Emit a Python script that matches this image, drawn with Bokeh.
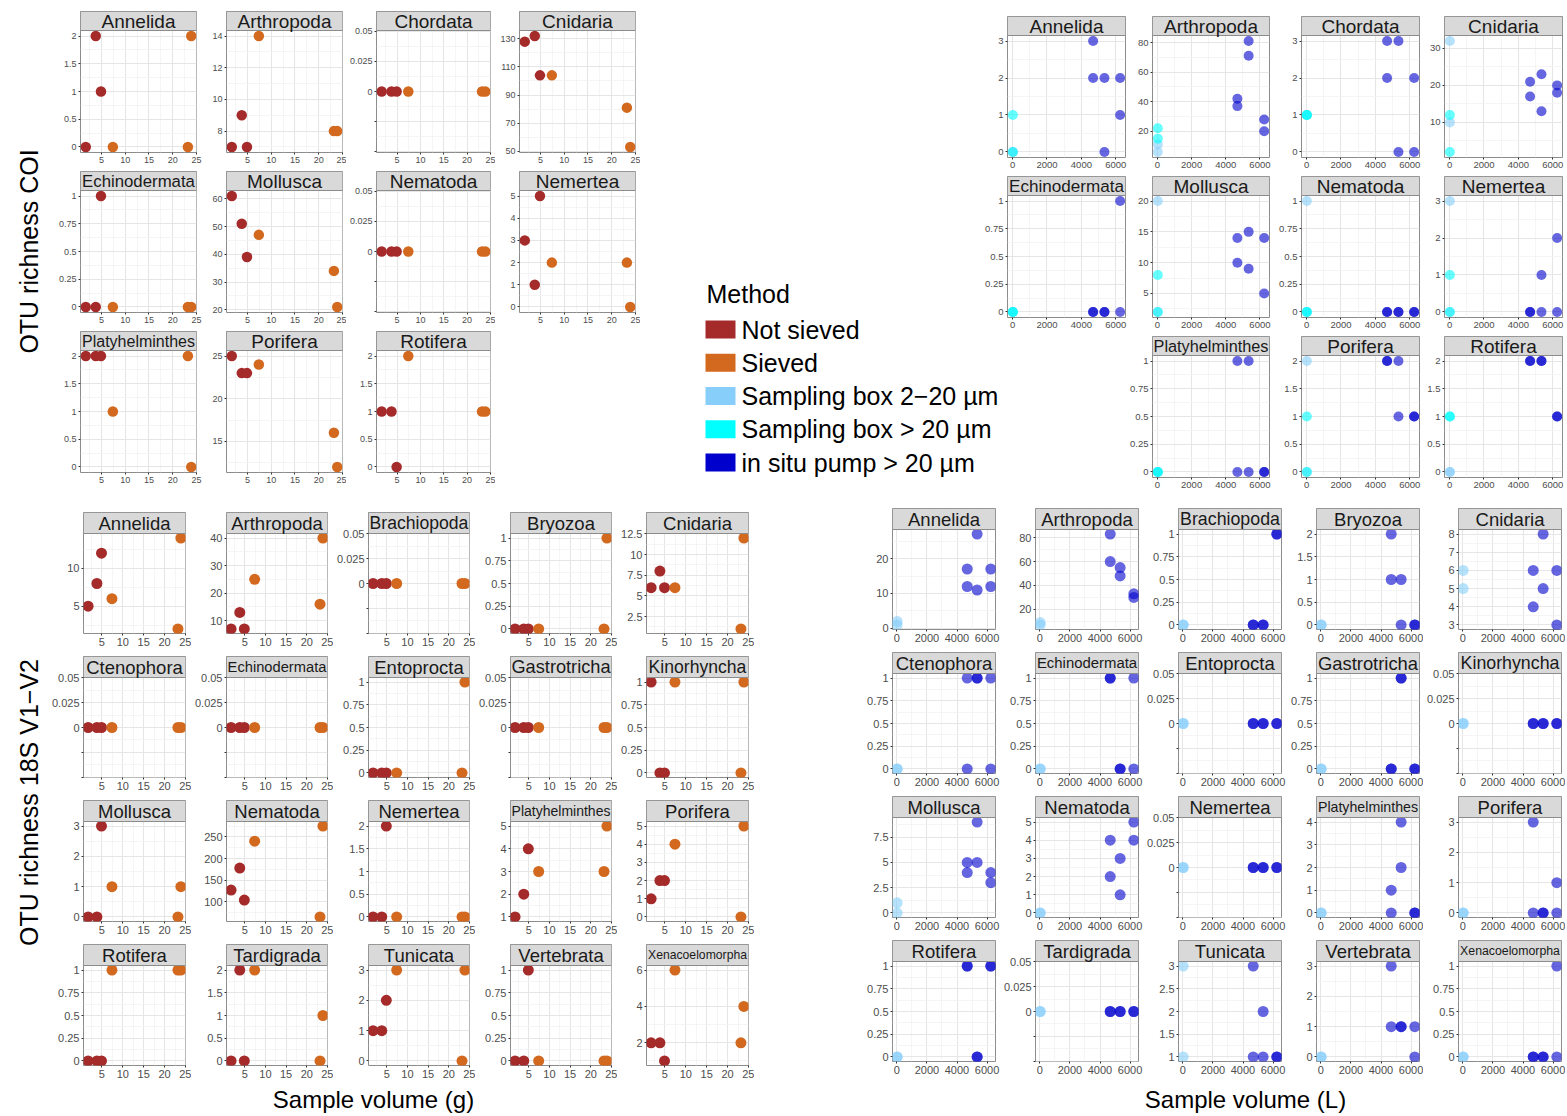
import math
from bokeh.plotting import figure
from bokeh.models import Range1d, FixedTicker, CustomJSTickFormatter, Spacer
from bokeh.layouts import row, column
from bokeh.core.properties import value
from bokeh.embed import file_html
from bokeh.resources import INLINE

FONT = "Liberation Sans"

# ------------------------------------------------------------------ data
METHODS = ["Not sieved", "Sieved", "Sampling box 2\u221220 \u00b5m",
           "Sampling box > 20 \u00b5m", "in situ pump > 20 \u00b5m"]
METHOD_COLORS = ["#A52A2A", "#D2691E", "#87CEFA", "#00FFFF", "#0000CD"]

SED_NOT_SIEVED_G = [1.7, 3.8, 4.9]
SED_SIEVED_G = [7.4, 23.2, 23.9]
WATER_BOX_L = [20, 20]
WATER_PUMP_L = [4680, 4680, 5340, 5340, 6250, 6250]

COI_TAXA = ["Annelida", "Arthropoda", "Chordata", "Cnidaria", "Echinodermata",
            "Mollusca", "Nematoda", "Nemertea", "Platyhelminthes", "Porifera", "Rotifera"]
COI_SED_NOT_SIEVED = [[0, 2, 1], [7, 9, 7], [0, 0, 0], [128, 132, 104], [0, 0, 1],
                      [61, 51, 39], [0, 0, 0], [3, 1, 5], [2, 2, 2], [25, 23, 23], [1, 1, 0]]
COI_SED_SIEVED = [[0, 0, 2], [14, 8, 8], [0, 0, 0], [104, 81, 53], [0, 0, 0],
                  [47, 34, 21], [0, 0, 0], [2, 2, 0], [1, 2, 0], [24, 16, 12], [2, 1, 1]]
COI_WAT_BOX_2_20 = [[0, 0], [11, 6], [1, 1], [32, 10], [0, 0], [20, 2], [1, 0], [3, 0],
                    [0, 0], [2, 0], [0, 0]]
COI_WAT_BOX_20 = [[1, 0], [22, 15], [1, 1], [12, 2], [0, 0], [8, 2], [0, 0], [1, 0],
                  [0, 0], [1, 0], [1, 1]]
COI_WAT_PUMP = [[3, 2, 2, 0, 2, 1], [42, 37, 81, 71, 28, 20], [3, 2, 3, 0, 2, 0],
                [21, 17, 23, 13, 20, 18], [0, 0, 0, 0, 1, 0], [14, 10, 15, 9, 14, 5],
                [0, 0, 0, 0, 0, 0], [0, 0, 1, 0, 2, 0], [1, 0, 1, 0, 0, 0],
                [2, 2, 2, 1, 1, 1], [2, 2, 2, 2, 1, 1]]

S18_TAXA = ["Annelida", "Arthropoda", "Brachiopoda", "Bryozoa", "Cnidaria",
            "Ctenophora", "Echinodermata", "Entoprocta", "Gastrotricha", "Kinorhyncha",
            "Mollusca", "Nematoda", "Nemertea", "Platyhelminthes", "Porifera",
            "Rotifera", "Tardigrada", "Tunicata", "Vertebrata", "Xenacoelomorpha"]
S18_SED_NOT_SIEVED = [[5, 8, 12], [7, 13, 7], [0, 0, 0], [0, 0, 0], [6, 8, 6],
                      [0, 0, 0], [0, 0, 0], [0, 0, 0], [0, 0, 0], [1, 0, 0],
                      [0, 0, 3], [127, 178, 104], [0, 0, 2], [1, 2, 4], [1, 2, 2],
                      [0, 0, 0], [0, 2, 0], [1, 1, 2], [0, 0, 1], [2, 2, 1]]
S18_SED_SIEVED = [[6, 2, 14], [25, 16, 40], [0, 0, 0], [0, 0, 1], [6, 1, 12],
                  [0, 0, 0], [0, 0, 0], [0, 0, 1], [0, 0, 0], [1, 0, 1],
                  [1, 0, 1], [240, 65, 275], [0, 0, 0], [3, 3, 5], [4, 0, 5],
                  [1, 1, 1], [2, 0, 1], [3, 0, 3], [0, 0, 0], [6, 2, 4]]
S18_WAT_BOX_2_20 = [[2, 1], [9, 7], [0, 0], [0, 0], [6, 5], [0, 0], [0, 0], [0, 0],
                    [0, 0], [0, 0], [1, 0], [0, 0], [0, 0], [0, 0], [0, 0], [0, 0],
                    [0, 0], [3, 1], [0, 0], [0, 0]]
S18_WAT_PUMP = [[17, 12, 27, 11, 17, 12], [83, 60, 55, 48, 33, 30], [0, 0, 0, 0, 1, 1],
                [2, 1, 1, 0, 0, 0], [6, 4, 8, 5, 6, 3], [1, 0, 1, 1, 1, 0],
                [1, 1, 0, 0, 1, 0], [0, 0, 0, 0, 0, 0], [0, 0, 1, 1, 0, 0],
                [0, 0, 0, 0, 0, 0], [5, 4, 9, 5, 4, 3], [4, 2, 3, 1, 5, 4],
                [0, 0, 0, 0, 0, 0], [1, 0, 4, 2, 0, 0], [3, 0, 0, 0, 1, 0],
                [1, 1, 0, 0, 1, 1], [0, 0, 0, 0, 0, 0], [3, 1, 2, 1, 1, 1],
                [3, 1, 1, 1, 1, 0], [0, 0, 0, 0, 1, 0]]

Y_TITLE_COI = "OTU richness COI"
Y_TITLE_18S = "OTU richness 18S V1\u2212V2"
X_TITLE_SED = "Sample volume (g)"
X_TITLE_WAT = "Sample volume (L)"
LEGEND_TITLE = "Method"


# ------------------------------------------------------------------ helpers
def extended(dmin, dmax, m=5):
    """Talbot et al. extended tick algorithm (as used by ggplot2)."""
    Q = [1, 5, 2, 2.5, 4, 3]
    w = [0.25, 0.2, 0.5, 0.05]
    eps = 2.220446e-14
    n = len(Q)
    best_score = -2.0
    best = None
    rng = dmax - dmin
    j = 1
    while j < 60:
        stop = False
        for qi, q in enumerate(Q, start=1):
            sm = 1 - (qi - 1) / (n - 1) - j + 1
            if w[0] * sm + w[1] + w[2] + w[3] < best_score:
                stop = True
                break
            k = 2
            while k < 60:
                dm = 2 - (k - 1) / (m - 1) if k >= m else 1
                if w[0] * sm + w[1] + w[2] * dm + w[3] < best_score:
                    break
                delta = rng / (k + 1) / j / q
                z = math.ceil(math.log10(delta))
                while z < 60:
                    step = j * q * 10.0 ** z
                    span = step * (k - 1)
                    if span > rng:
                        half = (span - rng) / 2
                        cm = 1 - 0.5 * (2 * half ** 2) / ((0.1 * rng) ** 2)
                    else:
                        cm = 1
                    if w[0] * sm + w[1] * cm + w[2] * dm + w[3] < best_score:
                        break
                    min_start = math.floor(dmax / step) * j - (k - 1) * j
                    max_start = math.ceil(dmin / step) * j
                    if min_start > max_start:
                        z += 1
                        continue
                    for start in range(min_start, max_start + 1):
                        lmin = start * (step / j)
                        lmax = lmin + step * (k - 1)
                        md = lmin % step
                        v = 1 if ((md < eps or step - md < eps) and lmin <= 0 <= lmax) else 0
                        s = 1 - (qi - 1) / (n - 1) - j + v
                        c = 1 - 0.5 * ((dmax - lmax) ** 2 + (dmin - lmin) ** 2) / ((0.1 * rng) ** 2)
                        r = (k - 1) / (lmax - lmin)
                        rt = (m - 1) / (max(lmax, dmax) - min(dmin, lmin))
                        g = 2 - max(r / rt, rt / r)
                        score = w[0] * s + w[1] * c + w[2] * g + w[3]
                        if score > best_score:
                            best_score = score
                            best = (lmin, step, k)
                    z += 1
                k += 1
        if stop:
            break
        j += 1
    lmin, step, k = best
    return [lmin + i * step for i in range(k)]


def expand(lo, hi):
    pad = 0.05 * (hi - lo)
    return lo - pad, hi + pad


def breaks_and_minors(r0, r1):
    # ggplot computes breaks on the expanded (continuous) range
    full = extended(r0, r1)
    tol = 1e-9 * (r1 - r0)
    majors = [round(b, 9) + 0.0 for b in full if r0 - tol <= b <= r1 + tol]
    minors = []
    if len(majors) >= 2:
        d = majors[1] - majors[0]
        ext = [majors[0] - d] + majors + [majors[-1] + d]
        minors = [round((a + b) / 2, 9) + 0.0 for a, b in zip(ext[:-1], ext[1:])]
        minors = [v for v in minors if r0 <= v <= r1]
    return majors, minors


CHAR_W = {"A": 667, "B": 667, "C": 722, "E": 667, "G": 778, "K": 722, "M": 833,
          "N": 722, "P": 667, "R": 722, "T": 611, "V": 667, "X": 667,
          "a": 556, "b": 556, "c": 500, "d": 556, "e": 556, "g": 556, "h": 556,
          "i": 222, "l": 222, "m": 833, "n": 556, "o": 556, "p": 556, "r": 333,
          "s": 500, "t": 278, "u": 556, "v": 500, "y": 500, "z": 500, "x": 500, " ": 278}


def em_width(s):
    return sum(CHAR_W.get(ch, 556) for ch in s) / 1000.0


TICK_FMT = CustomJSTickFormatter(code="""
if (tick < -1e-9) { return ""; }
return String(parseFloat(tick.toPrecision(10)));
""")


def make_facet(name, series, cfg, Lb, R, Bb):
    W, H, SH = cfg["W"], cfg["H"], cfg["SH"]
    xs_all = [x for s in series for x in s[0]]
    ys_all = [y for s in series for y in s[1]]
    x0, x1 = expand(min(xs_all), max(xs_all))
    xmaj, xmin = breaks_and_minors(x0, x1)
    ylo, yhi = min(ys_all), max(ys_all)
    if yhi - ylo < 1e-12:
        y0, y1 = ylo - 0.0505, yhi + 0.0505
        ymaj = [round(ylo + d, 6) + 0.0 for d in (-0.05, -0.025, 0.0, 0.025, 0.05)]
        ymin = [round(ylo + d, 6) + 0.0 for d in (-0.0375, -0.0125, 0.0125, 0.0375)]
    else:
        y0, y1 = expand(ylo, yhi)
        ymaj, ymin = breaks_and_minors(y0, y1)
    ytop = y1 + (y1 - y0) * SH / H

    p = figure(width=Lb + W + R, height=SH + H + Bb,
               x_range=Range1d(x0, x1), y_range=Range1d(y0, ytop),
               min_border_left=Lb, min_border_right=R, min_border_top=0,
               min_border_bottom=Bb, toolbar_location=None, output_backend="svg",
               background_fill_color="white", border_fill_color="white")
    p.outline_line_color = "#8C8C8C"
    p.outline_line_width = 1

    xt = FixedTicker(ticks=xmaj, minor_ticks=xmin)
    yt = FixedTicker(ticks=ymaj, minor_ticks=ymin)
    p.xaxis.ticker = xt
    p.yaxis.ticker = yt
    p.xgrid.ticker = xt
    p.ygrid.ticker = yt
    for ax in (p.xaxis[0], p.yaxis[0]):
        ax.formatter = TICK_FMT
        ax.axis_line_color = None
        ax.major_tick_line_color = "#333333"
        ax.major_tick_out = 2
        ax.major_tick_in = 0
        ax.minor_tick_line_color = None
        ax.major_label_standoff = 0
        ax.major_label_text_font = FONT
        ax.major_label_text_font_size = f"{cfg['TF']}px"
        ax.major_label_text_color = "#4D4D4D"
    for g in (p.xgrid[0], p.ygrid[0]):
        g.grid_line_color = "#E6E6E6"
        g.grid_line_width = 1.1
        g.minor_grid_line_color = "#F2F2F2"
        g.minor_grid_line_width = 0.8

    for xs, ys, col, alpha in series:
        p.scatter(x=list(xs), y=list(ys), size=cfg["PT"], fill_color=col,
                  fill_alpha=alpha, line_color=None)

    # facet strip
    p.quad(left=[x0], right=[x1], bottom=[y1], top=[ytop], fill_color="#D9D9D9",
           line_color="#8C8C8C", line_width=1)
    fs = min(cfg["SF"], (W - 3) / em_width(name))
    p.text(x=[(x0 + x1) / 2], y=[(y1 + ytop) / 2], text=[name],
           text_align="center", text_baseline="middle",
           text_font=value(FONT), text_font_size=value(f"{fs:.1f}px"),
           text_color="#1A1A1A")
    return p


def canvas(w, h, px0, py0):
    c = figure(width=w, height=h, x_range=Range1d(px0, px0 + w),
               y_range=Range1d(-(py0 + h), -py0), x_axis_type=None, y_axis_type=None,
               toolbar_location=None, output_backend="svg",
               min_border_left=0, min_border_right=0, min_border_top=0, min_border_bottom=0)
    c.outline_line_color = None
    c.background_fill_color = "white"
    c.border_fill_color = "white"
    return c


def sed_series(ns, sv):
    return [(SED_NOT_SIEVED_G, ns, METHOD_COLORS[0], 1.0),
            (SED_SIEVED_G, sv, METHOD_COLORS[1], 1.0)]


def coi_wat_series(i):
    return [(WATER_BOX_L, COI_WAT_BOX_2_20[i], METHOD_COLORS[2], 0.6),
            (WATER_BOX_L, COI_WAT_BOX_20[i], METHOD_COLORS[3], 0.6),
            (WATER_PUMP_L, COI_WAT_PUMP[i], METHOD_COLORS[4], 0.6)]


def s18_wat_series(i):
    return [(WATER_BOX_L, S18_WAT_BOX_2_20[i], METHOD_COLORS[2], 0.6),
            (WATER_PUMP_L, S18_WAT_PUMP[i], METHOD_COLORS[4], 0.6)]


def build_col(items, cfg, Lb, R, top_pad, bottoms, bottom_pad=0):
    W = cfg["W"]
    kids = []
    if top_pad:
        kids.append(Spacer(width=Lb + W + R, height=top_pad))
    for (name, series), Bb in zip(items, bottoms):
        kids.append(make_facet(name, series, cfg, Lb, R, Bb))
    if bottom_pad:
        kids.append(Spacer(width=Lb + W + R, height=bottom_pad))
    return column(kids)


# ------------------------------------------------------------------ configs
CFG_TL = dict(W=116, H=122, SH=19, TF=9, SF=19, PT=10.5)
CFG_TR = dict(W=118, H=122, SH=19, TF=9.5, SF=19, PT=10)
CFG_BL = dict(W=102, H=100, SH=21, TF=11, SF=18.5, PT=11)
CFG_BR = dict(W=103, H=100, SH=21, TF=11, SF=18.5, PT=11)

TOP_Y = 8
TOP_H = 488
BOT_Y = TOP_Y + TOP_H
BOT_H = 590
XT_H = 28

# ---- top-left: COI sediment
coi_sed = [(COI_TAXA[i], sed_series(COI_SED_NOT_SIEVED[i], COI_SED_SIEVED[i]))
           for i in range(len(COI_TAXA))]
tl_cols_items = [[coi_sed[0], coi_sed[4], coi_sed[8]],
                 [coi_sed[1], coi_sed[5], coi_sed[9]],
                 [coi_sed[2], coi_sed[6], coi_sed[10]],
                 [coi_sed[3], coi_sed[7]]]
TL_LB = [28, 22, 28, 24]
TL_R = [8, 4, 5, 5]
tl_cols = [build_col(items, CFG_TL, TL_LB[c], TL_R[c], 3, [19] * len(items))
           for c, items in enumerate(tl_cols_items)]
TL_RIGHT = 52 + sum(TL_LB[c] + CFG_TL["W"] + TL_R[c] for c in range(4))

# ---- top-right: COI water
coi_wat = [(COI_TAXA[i], coi_wat_series(i)) for i in range(len(COI_TAXA))]
TR0_LB, TR0_R = 27, 2
tr_col0 = build_col([coi_wat[0], coi_wat[4]], CFG_TR, TR0_LB, TR0_R, 8, [19, 19],
                    bottom_pad=8)
tr_rest_items = [[coi_wat[1], coi_wat[5], coi_wat[8]],
                 [coi_wat[2], coi_wat[6], coi_wat[9]],
                 [coi_wat[3], coi_wat[7], coi_wat[10]]]
TR_LB = [24, 28, 22]
TR_R = [4, 3, 3]
tr_cols = [build_col(items, CFG_TR, TR_LB[c], TR_R[c], 8, [19] * 3)
           for c, items in enumerate(tr_rest_items)]

# ---- legend (split around the first COI-water column)
TR0_LEFT = 980
UP_H = 336
UP_W = TR0_LEFT - TL_RIGHT
LOW_W = UP_W + TR0_LB + CFG_TR["W"] + TR0_R
LOW_H = TOP_H - UP_H
leg_up = canvas(UP_W, UP_H, TL_RIGHT, TOP_Y)
leg_low = canvas(LOW_W, LOW_H, TL_RIGHT, TOP_Y + UP_H)
leg_up.text(x=[706], y=[-293], text=[LEGEND_TITLE], text_align="left",
            text_baseline="middle", text_font=value(FONT),
            text_font_size=value("25px"), text_color="#000000")
LEG_Y0, LEG_DY = 329, 33.25
for i, (lab, col) in enumerate(zip(METHODS, METHOD_COLORS)):
    yy = LEG_Y0 + i * LEG_DY
    tgt = leg_up if yy < TOP_Y + UP_H else leg_low
    tgt.rect(x=[720], y=[-yy], width=30, height=18, fill_color=col, line_color=None)
    tgt.text(x=[741], y=[-yy], text=[lab], text_align="left", text_baseline="middle",
             text_font=value(FONT), text_font_size=value("25px"), text_color="#000000")
middle = column([row([leg_up, tr_col0]), leg_low])

# ---- y titles
ylab_coi = canvas(44, TOP_H, 8, TOP_Y)
ylab_coi.text(x=[28], y=[-251], text=[Y_TITLE_COI], angle=math.pi / 2,
              text_align="center", text_baseline="middle", text_font=value(FONT),
              text_font_size=value("25px"), text_color="#000000")
ylab_18 = canvas(38, BOT_H, 8, BOT_Y)
ylab_18.text(x=[28], y=[-802], text=[Y_TITLE_18S], angle=math.pi / 2,
             text_align="center", text_baseline="middle", text_font=value(FONT),
             text_font_size=value("25px"), text_color="#000000")

top = row([ylab_coi] + tl_cols + [middle] + tr_cols)

# ---- bottom-left: 18S sediment
s18_sed = [(S18_TAXA[i], sed_series(S18_SED_NOT_SIEVED[i], S18_SED_SIEVED[i]))
           for i in range(len(S18_TAXA))]
BL_LB = [37, 34, 34, 34, 29]
BL_R = [6, 6, 6, 6, 6]
bl_cols = [build_col([s18_sed[c + 5 * r] for r in range(4)], CFG_BL, BL_LB[c], BL_R[c],
                     16, [23, 23, 23, 21]) for c in range(5)]
BL_RIGHT = 46 + sum(BL_LB[c] + CFG_BL["W"] + BL_R[c] for c in range(5))

# ---- bottom-right: 18S water
s18_wat = [(S18_TAXA[i], s18_wat_series(i)) for i in range(len(S18_TAXA))]
BR_LB = [30, 35, 35, 30, 35]
BR_R = [5, 5, 5, 4, 4]
br_cols = [build_col([s18_wat[c + 5 * r] for r in range(4)], CFG_BR, BR_LB[c], BR_R[c],
                     12, [23, 23, 23, 21]) for c in range(5)]
BR_LEFT = 862

bottom = row([ylab_18] + bl_cols + [Spacer(width=BR_LEFT - BL_RIGHT, height=BOT_H)] + br_cols)

# ---- x titles
XT_Y = BOT_Y + BOT_H
XT_W = 1557
xt = canvas(XT_W, XT_H, 8, XT_Y)
xt.text(x=[373, 1245], y=[-(XT_Y + 13)] * 2, text=[X_TITLE_SED, X_TITLE_WAT],
        text_align="center", text_baseline="middle", text_font=value(FONT),
        text_font_size=value("24px"), text_color="#000000")

body = column([top, bottom, xt])
layout = column([Spacer(width=8 + XT_W, height=8), row([Spacer(width=8, height=10), body])])

open("out.html", "w").write(file_html(layout, INLINE))
